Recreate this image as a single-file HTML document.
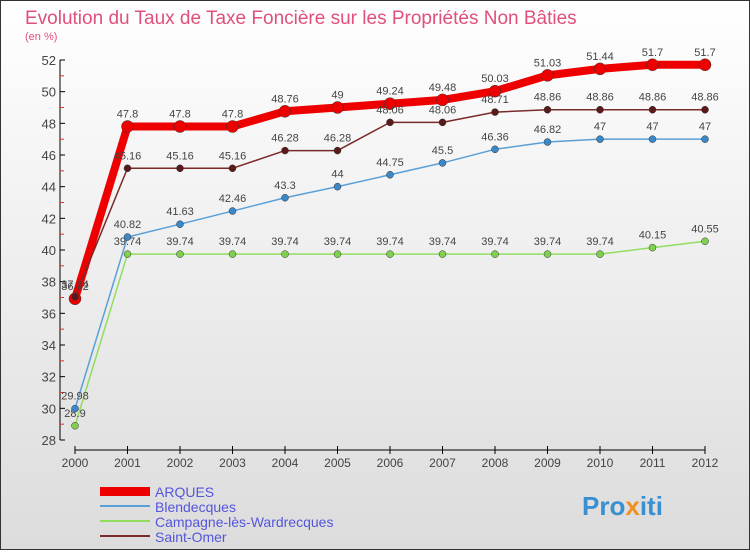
<!DOCTYPE html>
<html><head><meta charset="utf-8"><style>
body{margin:0;width:750px;height:550px;overflow:hidden;font-family:"Liberation Sans",sans-serif}
svg text{font-family:"Liberation Sans",sans-serif}
</style></head><body>
<svg id="c" width="750" height="550" xmlns="http://www.w3.org/2000/svg">
<defs><linearGradient id="bg" x1="0" y1="0" x2="0" y2="1"><stop offset="0" stop-color="#ffffff"/><stop offset="1" stop-color="#dcdcdc"/></linearGradient></defs>
<rect x="0.5" y="0.5" width="749" height="549" fill="url(#bg)" stroke="#333"/>
<text x="25" y="24" font-size="19" fill="#e0507a">Evolution du Taux de Taxe Foncière sur les Propriétés Non Bâties</text>
<text x="25" y="40" font-size="11" fill="#e0507a">(en %)</text>
<g id="axes"></g><g id="series"></g>
<g>
<rect x="100" y="487" width="50" height="9" fill="#ee0000"/>
<text x="155" y="497" font-size="14" fill="#5555dd">ARQUES</text>
<rect x="100" y="505" width="50" height="2" fill="#5aa0d8"/>
<text x="155" y="512" font-size="14" fill="#5555dd">Blendecques</text>
<rect x="100" y="520" width="50" height="2" fill="#90dd60"/>
<text x="155" y="527" font-size="14" fill="#5555dd">Campagne-lès-Wardrecques</text>
<rect x="100" y="535" width="50" height="2" fill="#7a2a2a"/>
<text x="155" y="542" font-size="14" fill="#5555dd">Saint-Omer</text>
</g>
<text x="582" y="515" font-size="26" font-weight="bold" fill="#3a8fd0">Pro<tspan fill="#f09020">x</tspan>iti</text>
</svg>
<script>
const years=[2000,2001,2002,2003,2004,2005,2006,2007,2008,2009,2010,2011,2012];
const yTicks=[28,30,32,34,36,38,40,42,44,46,48,50,52];
const arques=[36.92,47.8,47.8,47.8,48.76,49,49.24,49.48,50.03,51.03,51.44,51.7,51.7];
const blendecques=[29.98,40.82,41.63,42.46,43.3,44,44.75,45.5,46.36,46.82,47,47,47];
const campagne=[28.9,39.74,39.74,39.74,39.74,39.74,39.74,39.74,39.74,39.74,39.74,40.15,40.55];
const saintOmer=[37.04,45.16,45.16,45.16,46.28,46.28,48.06,48.06,48.71,48.86,48.86,48.86,48.86];
const NS="http://www.w3.org/2000/svg";
const xs=i=>75+i*52.5, ys=v=>60+(52-v)*(380/24);
function mk(t,a,p){const e=document.createElementNS(NS,t);for(const k in a)e.setAttribute(k,a[k]);p.appendChild(e);return e;}
const ax=document.getElementById('axes');
let l=mk('line',{x1:60,y1:60,x2:60,y2:440,stroke:'#000'},ax);

l=mk('line',{x1:75,y1:450,x2:705,y2:450,stroke:'#000'},ax);

yTicks.forEach(v=>{const y=ys(v);mk('line',{x1:60,y1:y,x2:65,y2:y,stroke:'#000'},ax);
 if(v<52)mk('line',{x1:60,y1:ys(v+1),x2:64,y2:ys(v+1),stroke:'#e03030'},ax);
 const t=mk('text',{x:56,y:y+5,'font-size':13,fill:'#444','text-anchor':'end'},ax);t.textContent=v;
 });
years.forEach((yr,i)=>{const x=xs(i);mk('line',{x1:x,y1:446,x2:x,y2:454,stroke:'#000'},ax);
 const t=mk('text',{x:x,y:467,'font-size':12,fill:'#444','text-anchor':'middle'},ax);t.textContent=yr;
 });
const sg=document.getElementById('series');
function draw(name,d,col,w,r,dot){const g=mk('g',{},sg);
 
 const p=mk('polyline',{points:d.map((v,i)=>xs(i)+','+ys(v)).join(' '),fill:'none',stroke:col,'stroke-width':w,'stroke-linejoin':'round'},g);
 
 d.forEach((v,i)=>{const c=mk('circle',{cx:xs(i),cy:ys(v),r:r,fill:dot,stroke:'#333','stroke-width':0.5},g);
  
  const t=mk('text',{x:xs(i),y:ys(v)-9,'font-size':11,fill:'#444','text-anchor':'middle'},g);t.textContent=v;
  });}
draw('campagne',campagne,'#90dd60',1.5,3.5,'#80d050');
draw('blendecques',blendecques,'#5aa0d8',1.5,3.5,'#3a88c8');
draw('arques',arques,'#ee0000',8,6,'#ee0000');
draw('saint-omer',saintOmer,'#7a2a2a',1.5,3.5,'#5a1a1a');
</script>
</body></html>
